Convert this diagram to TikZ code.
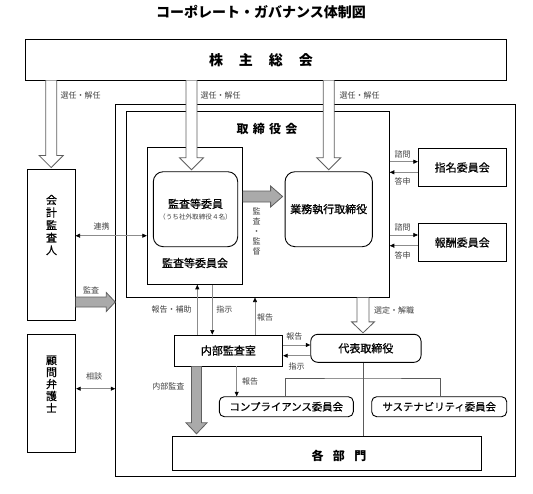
\documentclass[tikz,border=0pt]{standalone}
\usepackage{fontspec}
\setmainfont{Noto Sans CJK JP}
\newfontfamily\medfont[FakeBold=0.6]{Noto Sans CJK JP}
\usetikzlibrary{calc,arrows.meta}

\definecolor{lblgray}{RGB}{64,64,64}
\definecolor{linegray}{RGB}{140,140,140}
\definecolor{treegray}{RGB}{90,90,90}
\definecolor{arrowgray}{RGB}{95,95,95}
\definecolor{fillgray}{RGB}{170,170,170}

\tikzset{
  box/.style={draw=black, line width=0.9pt, inner sep=0pt, align=center, font=\medfont\fontsize{11}{13}\selectfont},
  rbox/.style={box, rounded corners=#1},
  rbox/.default=8pt,
  txt/.style={inner sep=0pt, align=center, font=\medfont\fontsize{11}{13}\selectfont},
  lbl/.style={inner sep=0pt, text=lblgray, font=\fontsize{8}{9}\selectfont},
  conn/.style={draw=linegray, line width=0.6pt},
  tree/.style={draw=treegray, line width=0.6pt},
  hollow/.style={draw=arrowgray, fill=white, line width=0.8pt, line join=miter},
  grayarrow/.style={draw=arrowgray, fill=fillgray, line width=0.8pt, line join=miter},
  >={Triangle[length=4.5pt,width=4pt,color=black]}
}

% block arrows: style, start, tip, shaft half width, head half width, head length
\newcommand{\arrowdown}[6]{%
  \draw[#1] ($(#2)+(-#4,0)$) -- ($(#3)+(-#4,-#6)$) -- ($(#3)+(-#5,-#6)$) -- (#3)
    -- ($(#3)+(#5,-#6)$) -- ($(#3)+(#4,-#6)$) -- ($(#2)+(#4,0)$);}
\newcommand{\arrowright}[6]{%
  \draw[#1] ($(#2)+(0,-#4)$) -- ($(#3)+(-#6,-#4)$) -- ($(#3)+(-#6,-#5)$) -- (#3)
    -- ($(#3)+(-#6,#5)$) -- ($(#3)+(-#6,#4)$) -- ($(#2)+(0,#4)$);}

\begin{document}
\begin{tikzpicture}[x=1pt,y=1pt,yscale=-1,xscale=1]
\useasboundingbox (0,0) rectangle (533,493);

% Title
\draw (261,12) node (title) [txt, font=\fontsize{14}{16}\selectfont\bfseries] {コーポレート・ガバナンス体制図};

%Shape: Rectangle (shareholders)
\draw (265.5,59.5) node (kabunushi) [box, minimum width=481, minimum height=41] {};
% Text Node
\draw (261,60) node (kabunushiText) [txt, font=\fontsize{14}{16}\selectfont\bfseries] {株\hspace{16pt}主\hspace{16pt}総\hspace{16pt}会};

%Shape: Rectangle (company frame)
\draw (315.4,290) node (outer) [box, line width=1pt, minimum width=399.3, minimum height=372] {};
%Shape: Rectangle (board)
\draw (258,204.4) node (tk) [box, minimum width=262.6, minimum height=185.3] {};
% Text Node
\draw (267,129) node (tkText) [txt, font=\fontsize{12}{14}\selectfont\bfseries] {取\hspace{4.3pt}締\hspace{4.3pt}役\hspace{4.3pt}会};

%Shape: Rectangle (audit committee)
\draw (194.8,215.8) node (kansaCom) [box, minimum width=95, minimum height=137] {};
% Text Node
\draw (195,263) node (kansaComText) [txt] {監査等委員会};
\draw (195.5,209.2) node (kansaIin) [rbox=10pt, minimum width=84.4, minimum height=75]
  {監査等委員\\[-2pt]{\normalfont\fontsize{6.6}{8}\selectfont\color{lblgray}（うち社外取締役４名）}};
\draw (328.7,209.2) node (gyomu) [rbox=10pt, minimum width=87.3, minimum height=75] {業務執行取締役};

%Shape: Rectangle (committees)
\draw (462.2,167.5) node (shimei) [box, minimum width=87.7, minimum height=38.4] {指名委員会};
\draw (462.2,242.5) node (hoshu) [box, minimum width=87.7, minimum height=38.4] {報酬委員会};

%Shape: Rectangle (left side)
\draw (51.2,244.5) node (kaikei) [box, minimum width=47.7, minimum height=151] {};
\draw (51.5,225) node (kaikeiText) [txt, font=\medfont\fontsize{11}{12.6}\selectfont] {会\\計\\監\\査\\人};
\draw (51.5,393) node (komon) [box, minimum width=48.4, minimum height=118] {};
\draw (51.5,384) node (komonText) [txt, font=\medfont\fontsize{11}{12}\selectfont] {顧\\問\\弁\\護\\士};

%Shape: Rectangle (lower part)
\draw (228.4,350.5) node (naibu) [box, minimum width=108.7, minimum height=31] {内部監査室};
\draw (365.9,348.3) node (daihyo) [rbox=7pt, minimum width=110.3, minimum height=28] {代表取締役};
\draw (286.3,406.7) node (compliance) [rbox=5pt, minimum width=134, minimum height=20, font=\medfont\fontsize{10.4}{12}\selectfont] {コンプライアンス委員会};
\draw (439.2,406.7) node (sustain) [rbox=5pt, minimum width=135, minimum height=20, font=\medfont\fontsize{10.4}{12}\selectfont] {サステナビリティ委員会};
\draw (327.2,453.4) node (kakubumon) [box, minimum width=309, minimum height=33.3] {};
\draw (339,456) node (kakubumonText) [txt, font=\fontsize{12}{14}\selectfont\bfseries] {各\hspace{9.5pt}部\hspace{9.5pt}門};

% tree under the president
\coordinate (branch) at (363,378);
\draw[tree] (daihyo.south -| branch) -- (kakubumon.north -| branch);
\draw[tree] (compliance.north -| 285,0) |- (branch) -| (sustain.north -| 440,0);

% block arrows
\coordinate (a1s) at (kaikei.north |- kabunushi.south);
\coordinate (a1e) at ($(kaikei.north)+(0,-1)$);
\arrowdown{hollow}{a1s}{a1e}{5.5}{12}{12}
\coordinate (a2s) at (kabunushi.south -| 191.5,0);
\coordinate (a2e) at ($(kansaIin.north -| 191.5,0)+(0,-1.5)$);
\arrowdown{hollow}{a2s}{a2e}{5.5}{12}{12}
\coordinate (a3s) at (gyomu.north |- kabunushi.south);
\coordinate (a3e) at ($(gyomu.north)+(0,-1.5)$);
\arrowdown{hollow}{a3s}{a3e}{5.5}{12}{12}
\coordinate (a4s) at (tk.south -| branch);
\coordinate (a4e) at ($(daihyo.north -| branch)+(0,-1)$);
\arrowdown{hollow}{a4s}{a4e}{6}{11.5}{11}

\coordinate (g1s) at (kaikei.east |- 0,302);
\coordinate (g1e) at (outer.west |- 0,302);
\arrowright{grayarrow}{g1s}{g1e}{5}{9.5}{9}
\coordinate (g2s) at (kansaCom.east |- 0,196.5);
\coordinate (g2e) at ($(gyomu.west |- 0,196.5)+(-2,0)$);
\arrowright{grayarrow}{g2s}{g2e}{5.5}{10.5}{12}
\coordinate (g3s) at (naibu.south -| 196.5,0);
\coordinate (g3e) at ($(kakubumon.north -| 196.5,0)+(0,-2.5)$);
\arrowdown{grayarrow}{g3s}{g3e}{5}{10.5}{11}

% thin connectors
\draw[conn,<->] (kaikei.east |- 0,235.7) -- (kansaCom.west |- 0,235.7);
\draw[conn,<->] (komon.east |- 0,388.7) -- (outer.west |- 0,388.7);
\draw[conn,->] (tk.east |- 0,161.7) -- (shimei.west |- 0,161.7);
\draw[conn,<-] (tk.east |- 0,172.3) -- (shimei.west |- 0,172.3);
\draw[conn,->] (tk.east |- 0,235) -- (hoshu.west |- 0,235);
\draw[conn,<-] (tk.east |- 0,245.7) -- (hoshu.west |- 0,245.7);
\draw[conn,->] (naibu.north -| 197.3,0) -- (kansaCom.south -| 197.3,0);
\draw[conn,->] (kansaCom.south -| 212.3,0) -- (naibu.north -| 212.3,0);
\draw[conn,->] (naibu.north -| 255,0) -- (tk.south -| 255,0);
\draw[conn,->] (naibu.east |- 0,345) -- (daihyo.west |- 0,345);
\draw[conn,<-] (naibu.east |- 0,355.7) -- (daihyo.west |- 0,355.7);
\draw[conn,->] (naibu.south -| 236.7,0) -- (compliance.north -| 236.7,0);

% Text Node (labels)
\draw (80.5,95) node (l1) [lbl] {選任・解任};
\draw (220.5,95) node (l2) [lbl] {選任・解任};
\draw (359.5,95) node (l3) [lbl] {選任・解任};
\draw (101.5,226) node (l4) [lbl] {連携};
\draw (91,290) node (l5) [lbl] {監査};
\draw (94,376) node (l6) [lbl] {相談};
\draw (256.7,231.7) node (l7) [lbl, align=center, font=\fontsize{8}{10}\selectfont] {監\\査\\・\\監\\督};
\draw (402.5,154) node (l8) [lbl] {諮問};
\draw (402.5,181.7) node (l9) [lbl] {答申};
\draw (402.5,227.3) node (l10) [lbl] {諮問};
\draw (402.5,255) node (l11) [lbl] {答申};
\draw (171.7,309.3) node (l12) [lbl] {報告・補助};
\draw (224.3,309) node (l13) [lbl] {指示};
\draw (265,317.3) node (l14) [lbl] {報告};
\draw (394,310.7) node (l15) [lbl] {選定・解職};
\draw (294.3,336.7) node (l16) [lbl] {報告};
\draw (296.7,366) node (l17) [lbl] {指示};
\draw (250,381.7) node (l18) [lbl] {報告};
\draw (168.3,386.7) node (l19) [lbl] {内部監査};

\end{tikzpicture}
\end{document}
